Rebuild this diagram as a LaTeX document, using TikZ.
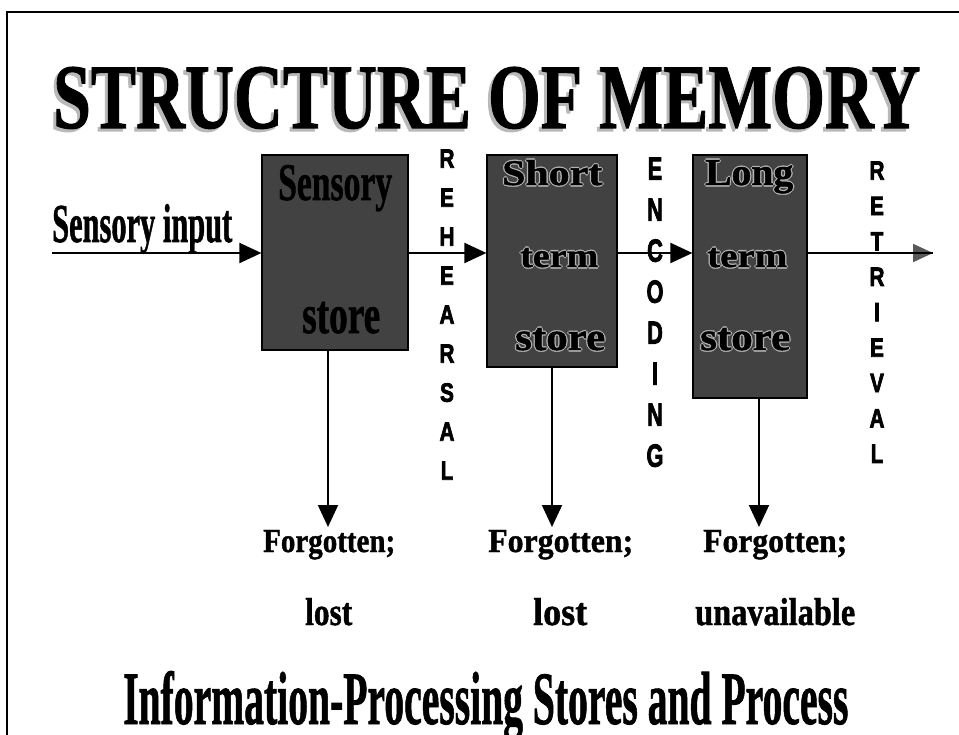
\documentclass[tikz,border=0pt]{standalone}
\usepackage{fontspec}
\usepackage{graphicx}
\setmainfont{Liberation Serif}[BoldFeatures={FakeBold=1.2}]
\newfontfamily\lettersans{Liberation Sans}[BoldFeatures={FakeBold=3}]
\usetikzlibrary{arrows.meta,calc}

% text squeezed to an exact width and height (pt)
\newcommand\fitbox[3]{\resizebox{#1pt}{#2pt}{\bfseries #3}}
% black text with a light grey outline
\newcommand\haloed[1]{\leavevmode
  \rlap{\kern-1.3pt\textcolor{gray!60}{#1}}%
  \rlap{\kern1.3pt\textcolor{gray!60}{#1}}%
  \rlap{\raisebox{1.3pt}{\textcolor{gray!60}{#1}}}%
  \rlap{\raisebox{-1.3pt}{\textcolor{gray!60}{#1}}}#1}
% letters stacked vertically: line spacing, font size, horizontal squeeze, letters
\newcommand\vword[4]{{\lettersans\bfseries\fontsize{#2}{#1}\selectfont
  \scalebox{#3}[1]{\begin{tabular}{@{}c@{}}#4\end{tabular}}}}

\begin{document}
\begin{tikzpicture}[x=1pt,y=-1pt,
  store/.style={draw=black, line width=1.2pt, fill=black!74, inner sep=0pt},
  flow/.style={line width=2pt, -{Triangle[length=22pt,width=20pt]}},
  txt/.style={inner sep=0pt, anchor=base west},
  vtxt/.style={inner sep=0pt, anchor=north}]

\path[fill=white, use as bounding box] (0,0) rectangle (959,735);

% frame
\coordinate (fbl) at (7,735);
\coordinate (ftl) at (7,12);
\coordinate (ftr) at (959,12);
\draw[line width=2.2pt] (fbl) -- (ftl) -- (ftr);

% heading
\node[txt, text=gray!55] (titleshadow) at (50,131) {\fitbox{867}{61}{STRUCTURE OF MEMORY}};
\node[txt] (title) at (53,128) {\fitbox{867}{61}{STRUCTURE OF MEMORY}};

% the three stores
\node[store, minimum width=146pt, minimum height=195pt] (sens) at (335,252.5) {};
\node[store, minimum width=130pt, minimum height=212pt] (short) at (552,261) {};
\node[store, minimum width=114pt, minimum height=243pt] (long) at (750,276.5) {};

\node[txt] (sens1) at (278,200) {\fitbox{114}{35}{Sensory}};
\node[txt] (sens2) at (302,333) {\fitbox{78}{31}{store}};

\node[txt] (short1) at (502,185) {\haloed{\fitbox{100}{25}{Short}}};
\node[txt] (short2) at (520,267) {\haloed{\fitbox{78}{19}{term}}};
\node[txt] (short3) at (515,350) {\haloed{\fitbox{90}{22}{store}}};

\node[txt] (long1) at (705,185) {\haloed{\fitbox{88}{25}{Long}}};
\node[txt] (long2) at (707,267) {\haloed{\fitbox{80}{19}{term}}};
\node[txt] (long3) at (700,350) {\haloed{\fitbox{90}{22}{store}}};

% input label
\node[txt] (input) at (52,242) {\fitbox{180}{38}{Sensory input}};

% main flow line
\coordinate (main) at (0,253);
\coordinate (instart) at (52,253);
\coordinate (outend) at (933,253);
\draw[flow] (instart) -- (sens.west |- main);
\draw[flow] (sens.east |- main) -- (short.west |- main);
\draw[flow] (short.east |- main) -- (long.west |- main);
\draw[line width=2pt, -{Triangle[length=20pt,width=18pt,color=black!65]}] (long.east |- main) -- (outend);
\draw[line width=2pt] (long.east |- main) -- (outend);

% process names
\node[vtxt] (rehearsal) at (447,140.2) {\vword{39}{26.5}{0.78}{R\\E\\H\\E\\A\\R\\S\\A\\L}};
\node[vtxt] (encoding) at (655,150.8) {\vword{41}{32}{0.68}{E\\N\\C\\O\\D\\I\\N\\G}};
\node[vtxt] (retrieval) at (877,154.7) {\vword{35.4}{26.5}{0.78}{R\\E\\T\\R\\I\\E\\V\\A\\L}};

% forgetting
\coordinate (tip1) at (328,527);
\coordinate (tip2) at (552,527);
\coordinate (tip3) at (759,527);
\draw[flow] (sens.south -| tip1) -- (tip1);
\draw[flow] (short.south -| tip2) -- (tip2);
\draw[flow] (long.south -| tip3) -- (tip3);

\node[txt] (forg1) at (263,552) {\fitbox{132}{22}{Forgotten;}};
\node[txt] (forg2) at (488,552) {\fitbox{145}{22}{Forgotten;}};
\node[txt] (forg3) at (703,552) {\fitbox{144}{22}{Forgotten;}};
\node[txt] (lost1) at (305,625) {\fitbox{47}{27}{lost}};
\node[txt] (lost2) at (533,625) {\fitbox{54}{27}{lost}};
\node[txt] (unavail) at (695,625) {\fitbox{160}{27}{unavailable}};

% caption
\node[txt] (caption) at (123,724) {\fitbox{725}{53}{Information-Processing Stores and Process}};
\end{tikzpicture}
\end{document}
